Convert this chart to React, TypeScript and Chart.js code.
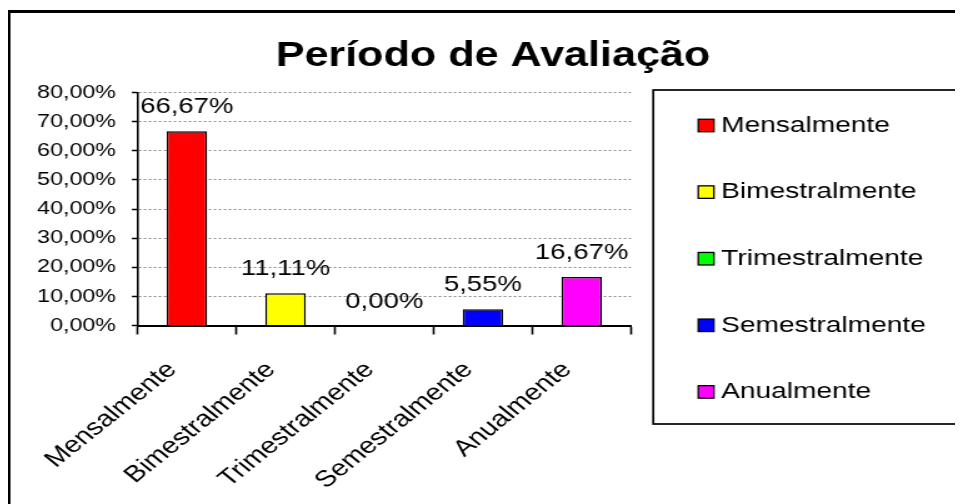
import React, { useEffect, useRef } from 'react';
import { Chart, registerables } from 'chart.js';

Chart.register(...registerables);

const categories = ['Mensalmente', 'Bimestralmente', 'Trimestralmente', 'Semestralmente', 'Anualmente'];
const values = [66.67, 11.11, 0, 5.55, 16.67];
const barColors = ['#FF0000', '#FFFF00', '#00FF00', '#0000FF', '#FF00FF'];
const yTicks = [0, 10, 20, 30, 40, 50, 60, 70, 80];
const titleText = 'Período de Avaliação';

const SX = 1.25;
const W = 764;
const H = 496;
const FONT = '"Liberation Sans", Arial, sans-serif';

const fmt = (v: number) => v.toFixed(2).replace('.', ',') + '%';

const decor = {
  id: 'decor',
  beforeDraw(chart: any) {
    const ctx = chart.ctx;
    ctx.save();
    ctx.fillStyle = '#fff';
    ctx.fillRect(0, 0, chart.width, chart.height);
    ctx.strokeStyle = '#000';
    // outer frame (top and left visible)
    ctx.lineWidth = 2;
    ctx.beginPath();
    ctx.moveTo(1, 2);
    ctx.lineTo(1, chart.height + 10);
    ctx.stroke();
    ctx.lineWidth = 3;
    ctx.beginPath();
    ctx.moveTo(0, 3.5);
    ctx.lineTo(chart.width + 10, 3.5);
    ctx.stroke();
    // title
    ctx.fillStyle = '#000';
    ctx.font = `bold 34.5px ${FONT}`;
    ctx.textAlign = 'center';
    ctx.textBaseline = 'alphabetic';
    ctx.fillText(titleText, 388, 58);
    // legend frame
    ctx.lineWidth = 1.7;
    ctx.strokeRect(516.2, 82, chart.width + 20 - 516.2, 334);
    // legend items
    const lx = 552.2;
    const box = 12.5;
    categories.forEach((c, i) => {
      const cy = 117.5 + i * 66.6;
      ctx.fillStyle = barColors[i];
      ctx.fillRect(lx, cy - box / 2, box, box);
      ctx.lineWidth = 1.3;
      ctx.strokeStyle = '#000';
      ctx.strokeRect(lx, cy - box / 2, box, box);
      ctx.fillStyle = '#000';
      ctx.font = `22.5px ${FONT}`;
      ctx.textAlign = 'left';
      ctx.textBaseline = 'middle';
      ctx.fillText(c, 570.5, cy);
    });
    ctx.restore();
  },
  afterDatasetsDraw(chart: any) {
    const ctx = chart.ctx;
    const meta = chart.getDatasetMeta(0);
    ctx.save();
    ctx.fillStyle = '#000';
    ctx.font = `22px ${FONT}`;
    ctx.textAlign = 'center';
    ctx.textBaseline = 'alphabetic';
    meta.data.forEach((bar: any, i: number) => {
      ctx.fillText(fmt(values[i]), bar.x, bar.y - 18);
    });
    ctx.restore();
  },
};

export default function App() {
  const ref = useRef<HTMLCanvasElement | null>(null);

  useEffect(() => {
    document.documentElement.style.overflow = 'hidden';
    document.body.style.overflow = 'hidden';
    if (!ref.current) return;
    const chart = new Chart(ref.current, {
      type: 'bar',
      data: {
        labels: categories,
        datasets: [
          {
            data: values,
            backgroundColor: barColors,
            borderColor: '#000',
            borderWidth: 1.5,
            barPercentage: 0.41,
            categoryPercentage: 1,
          },
        ],
      },
      options: {
        animation: false,
        responsive: false,
        devicePixelRatio: 1,
        layout: { padding: { left: 0, right: W - 498.4, top: 84.5, bottom: 0 } },
        plugins: {
          legend: { display: false },
          title: { display: false },
          tooltip: { enabled: false },
        },
        scales: {
          x: {
            offset: true,
            grid: {
              offset: true,
              drawOnChartArea: false,
              drawTicks: true,
              tickLength: 9,
              tickColor: '#000',
              tickWidth: 1.6,
              color: '#000',
            },
            border: { display: true, color: '#000', width: 2 },
            ticks: {
              color: '#000',
              font: { family: FONT, size: 23 },
              minRotation: 45,
              maxRotation: 45,
              autoSkip: false,
              padding: 22,
              labelOffset: -11.7,
            },
            afterFit: (s: any) => {
              s.height = H - 317.5;
            },
          },
          y: {
            min: 0,
            max: 80,
            afterBuildTicks: (s: any) => {
              s.ticks = yTicks.map((v) => ({ value: v }));
            },
            ticks: {
              color: '#000',
              font: { family: FONT, size: 18.6 },
              padding: 12.7,
              callback: (v: any) => fmt(Number(v)),
            },
            grid: {
              color: (c: any) => (c.tick && c.tick.value === 0 ? 'rgba(0,0,0,0)' : '#8c8c8c'),
              lineWidth: 1,
              drawTicks: true,
              tickColor: '#000',
              tickLength: 4.5,
              tickWidth: 1.5,
            },
            border: { display: true, color: '#000', width: 1.6, dash: [2, 2] },
            afterFit: (s: any) => {
              s.width = 103.6;
            },
          },
        },
      } as any,
      plugins: [decor],
    });
    return () => chart.destroy();
  }, []);

  return (
    <div style={{ width: W, height: H, transform: `scaleX(${SX})`, transformOrigin: '0 0' }}>
      <canvas ref={ref} width={W} height={H} style={{ display: 'block', width: W, height: H }} />
    </div>
  );
}
